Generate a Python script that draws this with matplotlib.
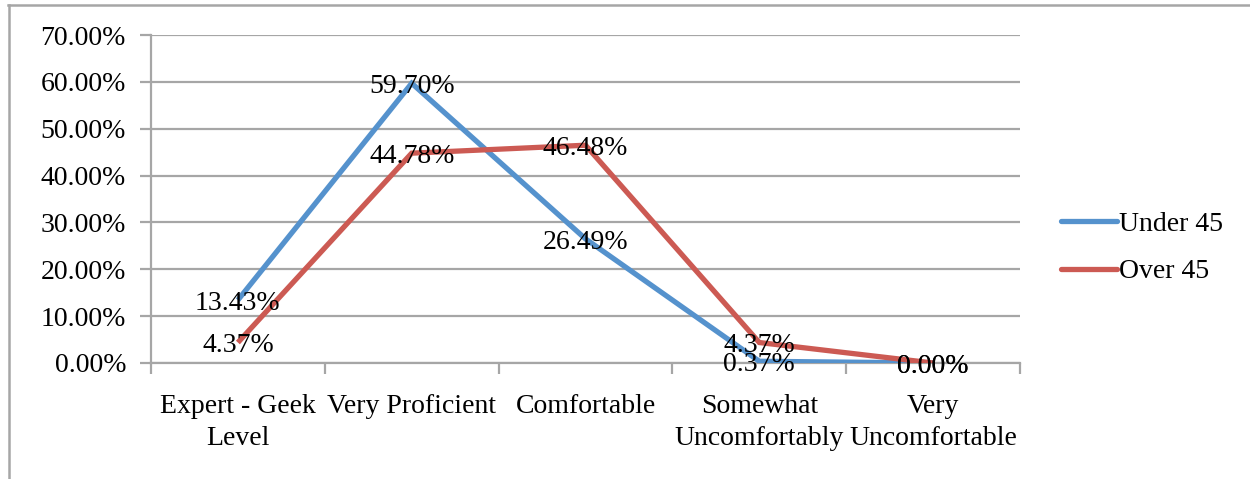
import matplotlib
matplotlib.use("Agg")
import matplotlib.pyplot as plt
from matplotlib.lines import Line2D
from matplotlib.ticker import FixedLocator, FuncFormatter

categories = ["Expert - Geek\nLevel", "Very Proficient", "Comfortable",
              "Somewhat\nUncomfortably", "Very\nUncomfortable"]
under_45 = [13.43, 59.70, 26.49, 0.37, 0.00]
over_45 = [4.37, 44.78, 46.48, 4.37, 0.00]
series_names = ["Under 45", "Over 45"]
y_ticks = [0, 10, 20, 30, 40, 50, 60, 70]

BLUE = "#5592CD"
RED = "#CC5A53"
GRID = "#A6A6A6"
FS = 20

plt.rcParams["font.family"] = ["Liberation Serif", "DejaVu Serif"]

fig = plt.figure(figsize=(12.5, 4.79), dpi=100)
ax = fig.add_axes([151 / 1250, 116 / 479, 869 / 1250, 328 / 479])

x = list(range(len(categories)))
ax.plot(x, under_45, color=BLUE, lw=3.8, solid_capstyle="butt",
        solid_joinstyle="miter", label=series_names[0], zorder=3)
ax.plot(x, over_45, color=RED, lw=3.8, solid_capstyle="butt",
        solid_joinstyle="miter", label=series_names[1], zorder=3)

for ys in (under_45, over_45):
    for xi, yi in zip(x, ys):
        ax.annotate(f"{yi:.2f}%", (xi, yi), xytext=(0, -2.5),
                    textcoords="offset points", ha="center", va="center",
                    fontsize=FS, color="black", zorder=4)

ax.set_xlim(-0.5, len(categories) - 0.5)
ax.set_ylim(0, 70)

ax.yaxis.set_major_locator(FixedLocator(y_ticks))
ax.yaxis.set_major_formatter(FuncFormatter(lambda v, p: f"{v:.2f}%"))
ax.grid(axis="y", color=GRID, lw=1.6, zorder=1)
ax.set_axisbelow(True)

ax.set_xticks(x)
ax.set_xticklabels(categories, fontsize=FS, linespacing=1.4)
ax.set_xticks([i - 0.5 for i in range(len(categories) + 1)], minor=True)
ax.tick_params(axis="x", which="major", length=0, pad=22)
ax.tick_params(axis="x", which="minor", length=8, width=1.6, color=GRID,
               direction="out")
ax.tick_params(axis="y", which="major", length=8, width=1.6, color=GRID,
               labelsize=FS, pad=10)

for side in ("top", "right"):
    ax.spines[side].set_visible(False)
for side in ("left", "bottom"):
    ax.spines[side].set_color(GRID)
    ax.spines[side].set_linewidth(1.6)

handles = [Line2D([], [], color=BLUE, lw=3.8, solid_capstyle="round"),
           Line2D([], [], color=RED, lw=3.8, solid_capstyle="round")]
fig.legend(handles, series_names, loc="center left",
           bbox_to_anchor=(1050 / 1250, 1 - 248 / 479), frameon=False,
           fontsize=FS, handlelength=2.0, handletextpad=0.1,
           labelspacing=0.78, borderaxespad=0)

# outer chart frame (left and top edges)
fig.add_artist(Line2D([9 / 1250, 9 / 1250], [0, 1 - 5 / 479],
                      transform=fig.transFigure, color=GRID, lw=1.8))
fig.add_artist(Line2D([8 / 1250, 1], [1 - 5 / 479, 1 - 5 / 479],
                      transform=fig.transFigure, color=GRID, lw=1.8))

fig.savefig("out.png", dpi=100)
